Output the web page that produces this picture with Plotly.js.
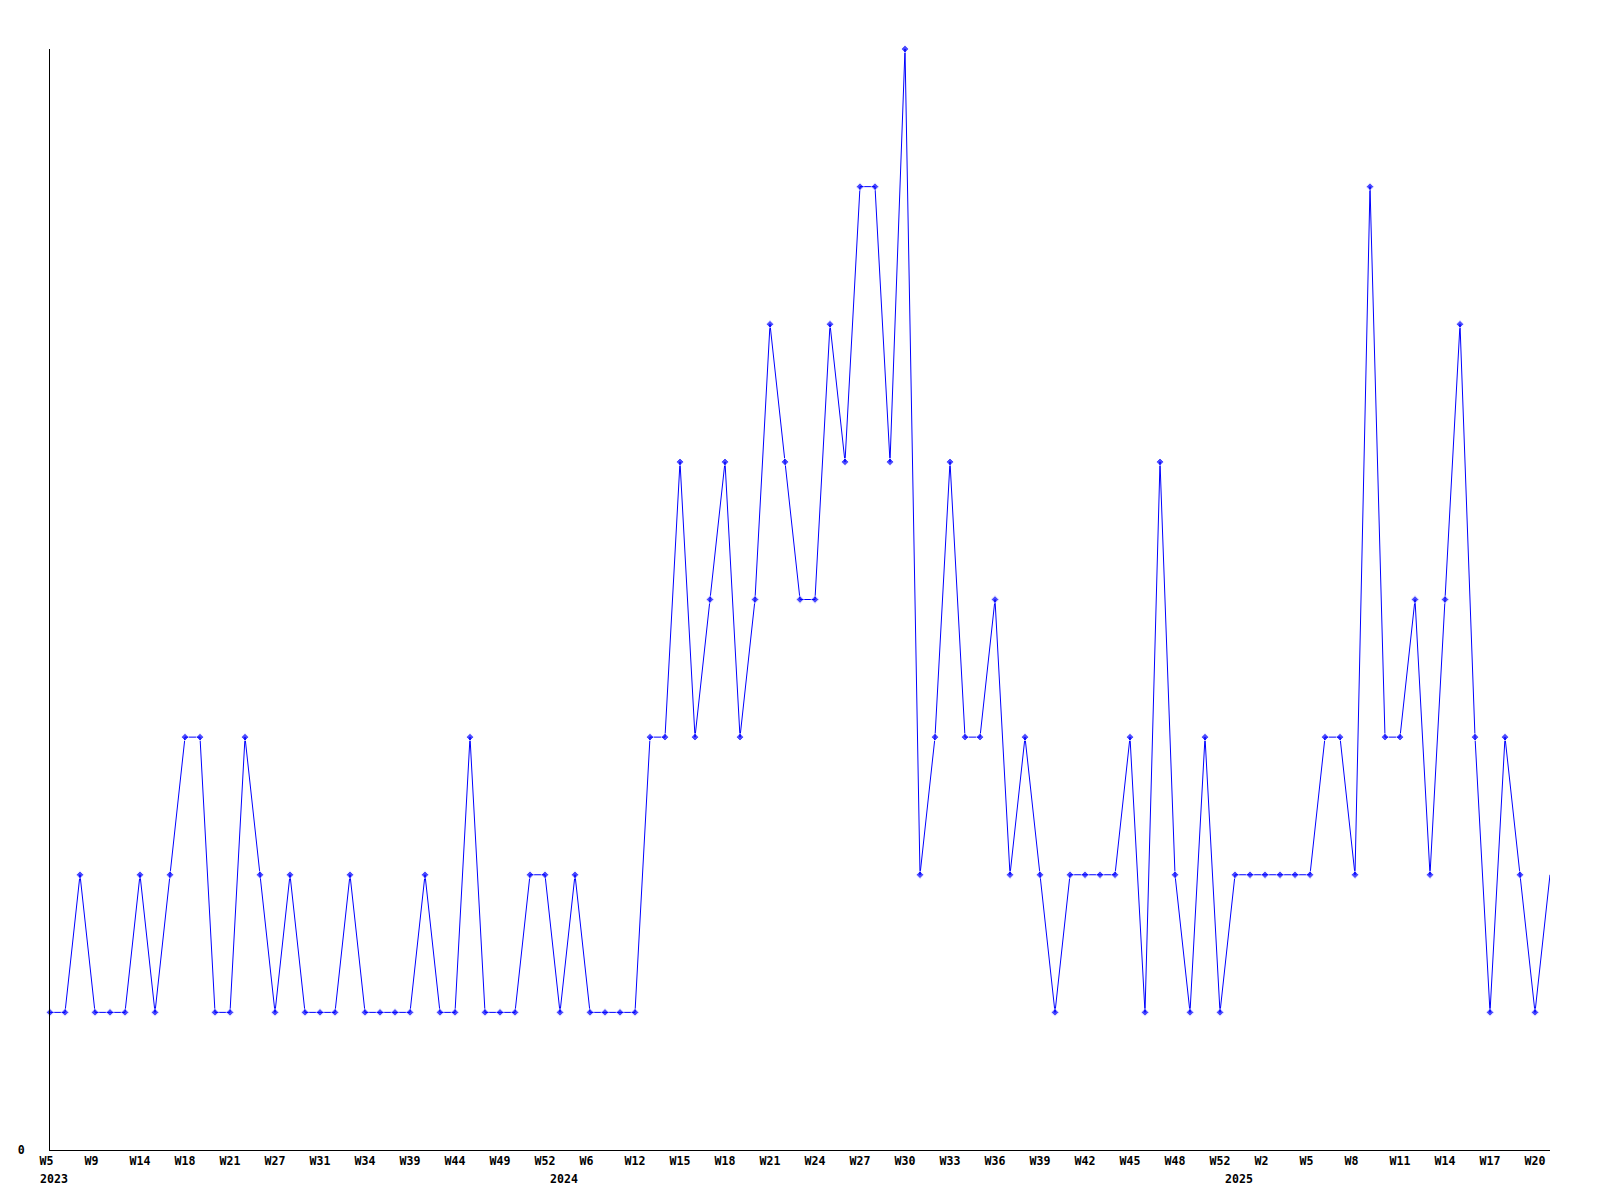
<!DOCTYPE html>
<html>
<head>
<meta charset="utf-8">
<script src="https://cdn.plot.ly/plotly-3.0.1.min.js"></script>
<style>html,body{margin:0;padding:0;background:#fff;}#chart{width:1600px;height:1200px;}</style>
</head>
<body>
<div id="chart"></div>
<script>
// Weekly counts (one point per reported week, in order)
const counts = [
  1,1,2,1,1,1,2,1,2,3,
  3,1,1,3,2,1,2,1,1,1,
  2,1,1,1,1,2,1,1,3,1,
  1,1,2,2,1,2,1,1,1,1,
  3,3,5,3,4,5,3,4,6,5,
  4,4,6,5,7,7,5,8,2,3,
  5,3,3,4,2,3,2,1,2,2,
  2,2,3,1,5,2,1,3,1,2,
  2,2,2,2,2,3,3,2,7,3,
  3,4,2,4,6,3,1,3,2,1,
  2
];
// Week tick labels and the point index where each appears
const weekLabels = ['W5','W9','W14','W18','W21','W27','W31','W34','W39','W44','W49','W52',
  'W6','W12','W15','W18','W21','W24','W27','W30','W33','W36','W39','W42','W45','W48','W52',
  'W2','W5','W8','W11','W14','W17','W20'];
const weekLabelIdx = [0,3,6,9,12,15,18,21,24,27,30,33,36,39,42,45,48,51,54,57,60,63,66,69,72,75,78,81,84,87,90,93,96,99];
// Year labels at the first point of each year
const yearLabels = ['2023','2024','2025'];
const yearStartIdx = [0,34,79];

const idx = counts.map((_, i) => i);
const markerSizes = counts.map((_, i) => i === counts.length - 1 ? 0 : 6);

const font = {family: 'DejaVu Sans Mono', size: 11.6, color: '#000'};

const trace = {
  x: idx, y: counts, type: 'scatter', mode: 'lines+markers',
  line: {color: '#0000ff', width: 1},
  marker: {symbol: 'diamond', size: markerSizes, color: '#0000ff'},
  cliponaxis: false,
  hoverinfo: 'skip'
};

const annotations = yearLabels.map((t, k) => ({
  text: '<b>' + t + '</b>', x: yearStartIdx[k], xref: 'x', y: 0, yref: 'paper',
  xanchor: 'left', yanchor: 'top', xshift: -12, yshift: -20,
  showarrow: false, font: font
}));

const layout = {
  width: 1600, height: 1200,
  margin: {l: 50, r: 50, t: 49, b: 50},
  paper_bgcolor: '#fff', plot_bgcolor: '#fff',
  showlegend: false, hovermode: false,
  font: font,
  xaxis: {
    range: [0, counts.length - 1], showgrid: false, zeroline: false,
    showline: true, linecolor: '#000', linewidth: 1, ticks: '',
    tickmode: 'array', tickvals: weekLabelIdx, ticktext: weekLabels.map(t => '<b>' + t + '</b>'),
    ticklabelposition: 'outside right', ticklabelshift: -11,
    tickfont: font, fixedrange: true
  },
  yaxis: {
    range: [0, 8], showgrid: false, zeroline: false,
    showline: true, linecolor: '#000', linewidth: 1, ticks: '',
    tickmode: 'array', tickvals: [0], ticktext: ['<b>0</b>'],
    ticklabelstandoff: 22, tickfont: font, fixedrange: true
  },
  annotations: annotations
};

Plotly.newPlot('chart', [trace], layout, {staticPlot: true, displayModeBar: false});
</script>
</body>
</html>
